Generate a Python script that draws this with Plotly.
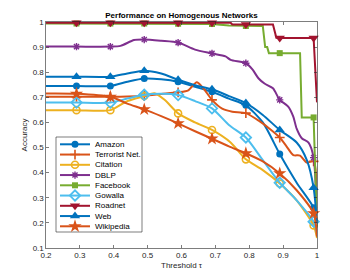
import plotly.graph_objects as go

# ---------------- data ----------------
SERIES = ["Amazon", "Terrorist Net.", "Citation", "DBLP", "Facebook",
          "Gowalla", "Roadnet", "Web", "Wikipedia"]

amazon_x = [0.2, 0.29, 0.39, 0.44, 0.49, 0.54, 0.59, 0.64, 0.69, 0.74, 0.79, 0.84, 0.89, 0.94, 0.99, 1.0]
amazon_y = [0.745, 0.745, 0.745, 0.762, 0.775, 0.772, 0.762, 0.742, 0.722, 0.695, 0.668, 0.6, 0.474, 0.36, 0.26, 0.2]

terror_x = [0.2, 0.29, 0.39, 0.44, 0.49, 0.54, 0.59, 0.62, 0.645, 0.665, 0.69, 0.72, 0.75, 0.79,
            0.83, 0.86, 0.89, 0.91, 0.93, 0.95, 0.97, 0.99, 1.0]
terror_y = [0.702, 0.702, 0.702, 0.703, 0.706, 0.713, 0.72, 0.728, 0.76, 0.735, 0.69, 0.655, 0.643, 0.637,
            0.605, 0.575, 0.54, 0.505, 0.47, 0.468, 0.44, 0.445, 0.2]

citation_x = [0.2, 0.29, 0.39, 0.44, 0.49, 0.52, 0.55, 0.59, 0.64, 0.69, 0.745, 0.79, 0.84, 0.89, 0.94, 0.99, 1.0]
citation_y = [0.649, 0.649, 0.649, 0.685, 0.705, 0.716, 0.69, 0.636, 0.6, 0.57, 0.52, 0.453, 0.41, 0.357, 0.29, 0.19, 0.14]

dblp_x = [0.2, 0.29, 0.39, 0.42, 0.46, 0.49, 0.54, 0.59, 0.64, 0.69, 0.73, 0.745, 0.79, 0.81, 0.827,
          0.845, 0.87, 0.89, 0.915, 0.93, 0.94, 0.955, 0.975, 0.99, 1.0]
dblp_y = [0.902, 0.902, 0.902, 0.905, 0.928, 0.93, 0.925, 0.918, 0.89, 0.875, 0.863, 0.849, 0.836, 0.81, 0.776,
          0.755, 0.736, 0.69, 0.663, 0.623, 0.575, 0.537, 0.52, 0.46, 0.19]

facebook_x = [0.2, 0.29, 0.39, 0.49, 0.59, 0.69, 0.74, 0.79, 0.84, 0.847, 0.853, 0.858, 0.89, 0.95, 0.955, 0.99, 1.0]
facebook_y = [0.994, 0.994, 0.994, 0.994, 0.993, 0.992, 0.986, 0.984, 0.984, 0.9, 0.9, 0.876, 0.876, 0.876, 0.62, 0.62, 0.18]

gowalla_x = [0.2, 0.29, 0.39, 0.44, 0.49, 0.54, 0.59, 0.64, 0.69, 0.74, 0.79, 0.84, 0.89, 0.94, 0.99, 1.0]
gowalla_y = [0.679, 0.679, 0.679, 0.695, 0.71, 0.714, 0.709, 0.685, 0.656, 0.59, 0.54, 0.45, 0.36, 0.29, 0.205, 0.16]

roadnet_x = [0.2, 0.29, 0.39, 0.49, 0.59, 0.69, 0.745, 0.75, 0.79, 0.87, 0.88, 0.89, 0.99, 1.0]
roadnet_y = [0.997, 0.997, 0.997, 0.997, 0.997, 0.997, 0.997, 0.99, 0.99, 0.99, 0.937, 0.936, 0.936, 0.68]

web_x = [0.2, 0.29, 0.39, 0.44, 0.49, 0.54, 0.59, 0.64, 0.69, 0.74, 0.79, 0.84, 0.89, 0.94, 0.97, 0.99, 1.0]
web_y = [0.782, 0.782, 0.782, 0.795, 0.806, 0.795, 0.77, 0.748, 0.732, 0.705, 0.677, 0.63, 0.57, 0.52, 0.45, 0.34, 0.2]

wiki_x = [0.2, 0.29, 0.39, 0.44, 0.49, 0.54, 0.59, 0.64, 0.69, 0.74, 0.79, 0.84, 0.89, 0.94, 0.99, 1.0]
wiki_y = [0.715, 0.714, 0.702, 0.675, 0.652, 0.625, 0.596, 0.565, 0.535, 0.505, 0.477, 0.445, 0.397, 0.33, 0.238, 0.145]

MARKER_X = [0.29, 0.39, 0.49, 0.59, 0.69, 0.79, 0.89, 0.99]

X_TICKS = [0.2, 0.3, 0.4, 0.5, 0.6, 0.7, 0.8, 0.9, 1.0]
X_TICKTEXT = ["0.2", "0.3", "0.4", "0.5", "0.6", "0.7", "0.8", "0.9", "1"]
Y_TICKS = [0.1, 0.2, 0.3, 0.4, 0.5, 0.6, 0.7, 0.8, 0.9, 1.0]
Y_TICKTEXT = ["0.1", "0.2", "0.3", "0.4", "0.5", "0.6", "0.7", "0.8", "0.9", "1"]

DATA = {
    "Amazon": (amazon_x, amazon_y),
    "Terrorist Net.": (terror_x, terror_y),
    "Citation": (citation_x, citation_y),
    "DBLP": (dblp_x, dblp_y),
    "Facebook": (facebook_x, facebook_y),
    "Gowalla": (gowalla_x, gowalla_y),
    "Roadnet": (roadnet_x, roadnet_y),
    "Web": (web_x, web_y),
    "Wikipedia": (wiki_x, wiki_y),
}

# ---------------- style ----------------
STYLE = {
    "Amazon":         dict(color="#0072BD", symbol="circle", size=7, lw=0),
    "Terrorist Net.": dict(color="#D95319", symbol="cross-thin-open", size=7, lw=1.6),
    "Citation":       dict(color="#EDB120", symbol="circle-open", size=7, lw=1.6),
    "DBLP":           dict(color="#7E2F8E", symbol="asterisk-open", size=6, lw=1.4),
    "Facebook":       dict(color="#77AC30", symbol="square", size=6, lw=0),
    "Gowalla":        dict(color="#4DBEEE", symbol="diamond-open", size=8, lw=1.8),
    "Roadnet":        dict(color="#A2142F", symbol="triangle-down", size=9, lw=0),
    "Web":            dict(color="#0072BD", symbol="triangle-up", size=9, lw=0),
    "Wikipedia":      dict(color="#D95319", symbol="star", size=10, lw=0),
}
STEP_SERIES = {"Facebook", "Roadnet"}
LINE_W = 2.0
FONT = "Liberation Sans, Arial, Helvetica, sans-serif"
AX_COLOR = "#262626"

W, H = 350, 280
ML, MR, MT, MB = 46, 33, 22, 32
PW, PH = W - ML - MR, H - MT - MB

fig = go.Figure()

for name in SERIES:
    xs, ys = DATA[name]
    st = STYLE[name]
    fig.add_trace(go.Scatter(
        x=xs, y=ys, mode="lines", name=name, showlegend=False,
        line=dict(color=st["color"], width=LINE_W,
                  shape="linear" if name in STEP_SERIES else "spline",
                  smoothing=0.7),
        hoverinfo="skip",
    ))
    mx = [x for x in xs if any(abs(x - m) < 1e-9 for m in MARKER_X)]
    my = [y for x, y in zip(xs, ys) if any(abs(x - m) < 1e-9 for m in MARKER_X)]
    fig.add_trace(go.Scatter(
        x=mx, y=my, mode="markers", showlegend=False, cliponaxis=False,
        marker=dict(symbol=st["symbol"], size=st["size"], color=st["color"],
                    line=dict(color=st["color"], width=st["lw"])),
        hoverinfo="skip",
    ))

# ---------------- custom legend (compact, MATLAB-like) ----------------
def px_to_paper_x(px):
    return (px - ML) / PW

def px_to_paper_y(py):
    return 1 - (py - MT) / PH

LEG_L, LEG_R, LEG_T, LEG_B = 56, 142, 137, 232
ROW0, ROW_STEP = 144.3, 10.25
SAMPLE_X0, SAMPLE_X1, TEXT_X = 60, 90, 93

fig.add_shape(type="rect", xref="paper", yref="paper",
              x0=px_to_paper_x(LEG_L), x1=px_to_paper_x(LEG_R),
              y0=px_to_paper_y(LEG_B), y1=px_to_paper_y(LEG_T),
              line=dict(color=AX_COLOR, width=0.6), fillcolor="white", layer="below")

for i, name in enumerate(SERIES):
    st = STYLE[name]
    yc = px_to_paper_y(ROW0 + i * ROW_STEP)
    x0, x1 = px_to_paper_x(SAMPLE_X0), px_to_paper_x(SAMPLE_X1)
    fig.add_trace(go.Scatter(
        x=[x0, x1], y=[yc, yc], mode="lines", xaxis="x2", yaxis="y2",
        showlegend=False, hoverinfo="skip",
        line=dict(color=st["color"], width=LINE_W)))
    fig.add_trace(go.Scatter(
        x=[(x0 + x1) / 2], y=[yc], mode="markers", xaxis="x2", yaxis="y2",
        showlegend=False, hoverinfo="skip", cliponaxis=False,
        marker=dict(symbol=st["symbol"], size=st["size"], color=st["color"],
                    line=dict(color=st["color"], width=st["lw"]))))
    fig.add_annotation(x=px_to_paper_x(TEXT_X), y=yc, xref="paper", yref="paper",
                       text=name, showarrow=False, xanchor="left", yanchor="middle",
                       font=dict(family=FONT, size=8, color="#000000"))

axis_common = dict(showline=True, mirror="ticks", linecolor=AX_COLOR, linewidth=0.6,
                   ticks="inside", ticklen=3, tickwidth=0.6, tickcolor=AX_COLOR,
                   showgrid=False, zeroline=False,
                   tickfont=dict(family=FONT, size=8, color=AX_COLOR))

fig.update_layout(
    width=W, height=H,
    margin=dict(l=ML, r=MR, t=MT, b=MB, pad=0),
    paper_bgcolor="white", plot_bgcolor="white",
    showlegend=False,
    title=dict(text="<b>Performance on Homogenous Networks</b>",
               x=0.5, xref="paper", xanchor="center",
               y=1 - 15 / H, yref="container", yanchor="middle",
               font=dict(family=FONT, size=8, color="#000000")),
    xaxis=dict(range=[0.2, 1.0], tickvals=X_TICKS, ticktext=X_TICKTEXT,
               title=dict(text="Threshold τ", standoff=2,
                          font=dict(family=FONT, size=8, color=AX_COLOR)),
               automargin=False, **axis_common),
    yaxis=dict(range=[0.1, 1.0], tickvals=Y_TICKS, ticktext=Y_TICKTEXT,
               title=dict(text="Accuracy", standoff=3,
                          font=dict(family=FONT, size=8, color=AX_COLOR)),
               automargin=False, **axis_common),
    xaxis2=dict(range=[0, 1], domain=[0, 1], overlaying="x", visible=False, fixedrange=True),
    yaxis2=dict(range=[0, 1], domain=[0, 1], overlaying="y", visible=False, fixedrange=True),
)

fig.write_html("out.html",
               config={"displayModeBar": False, "staticPlot": True},
               post_script="document.body.style.margin='0px';document.body.style.padding='0px';")
